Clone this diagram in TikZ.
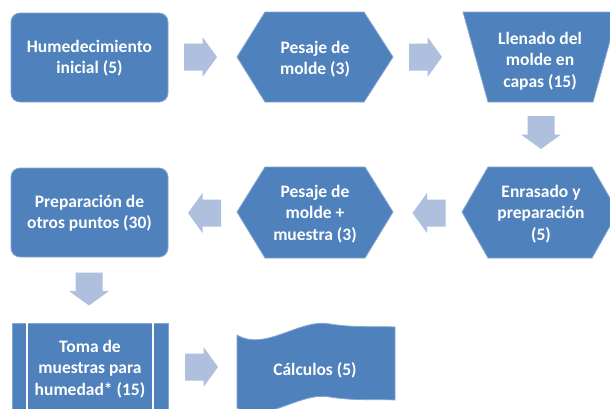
\documentclass[tikz,border=0pt]{standalone}
\usepackage{fontspec}
\setmainfont{Carlito}
\definecolor{boxblue}{HTML}{4F81BD}
\definecolor{arrowblue}{HTML}{AEC0DE}
\tikzset{
  shapefill/.style={fill=boxblue, draw=boxblue!70!white, line width=0.8pt},
  label/.style={text=white, align=center, font=\fontsize{17.5}{21.5}\selectfont\bfseries, inner sep=0pt},
  sep/.style={draw=white, line width=1.6pt}
}
\newcommand{\barrow}[4]{%
  \begin{scope}[shift={(#1,#2)},rotate=#3]
    \fill[arrowblue] (-16.5,-13.5) -- (2,-13.5) -- (2,-20) -- (16.5,0) -- (2,20) -- (2,13.5) -- (-16.5,13.5) -- cycle;
    \coordinate (#4) at (0,0);
  \end{scope}}
\begin{document}
\begin{tikzpicture}[x=1pt,y=-1pt]
\clip (0,0) rectangle (610,408);
\fill[white] (0,0) rectangle (610,408);
% row 1
\draw[shapefill, rounded corners=9pt] (11,13) rectangle (168,102);
\node[label] (n1) at (89.5,58) {Humedecimiento\\inicial (5)};
\draw[shapefill] (237,57) -- (265,12) -- (364,12) -- (393,57) -- (364,102) -- (265,102) -- cycle;
\node[label] (n2) at (315,59) {Pesaje de\\molde (3)};
\draw[shapefill] (463,12) -- (618,12) -- (593,102) -- (488,102) -- cycle;
\node[label] (n3) at (540,61) {Llenado del\\molde en\\capas (15)};
% row 2
\draw[shapefill] (462,212) -- (488,167) -- (592,167) -- (618,212) -- (592,258) -- (488,258) -- cycle;
\node[label] (n4) at (541,214) {Enrasado y\\preparación\\(5)};
\draw[shapefill] (237,212) -- (265,167) -- (365,167) -- (393,212) -- (365,258) -- (265,258) -- cycle;
\node[label] (n5) at (315,214) {Pesaje de\\molde +\\muestra (3)};
\draw[shapefill, rounded corners=9pt] (11,168) rectangle (168,257);
\node[label] (n6) at (89.5,213) {Preparación de\\otros puntos (30)};
% row 3
\draw[shapefill] (12,323) rectangle (168,440);
\draw[sep] (27,323) -- (27,440);
\draw[sep] (153,323) -- (153,440);
\node[label] (n7) at (90,369) {Toma de\\muestras para\\humedad* (15)};
\draw[shapefill] (237,335) .. controls (265,352) and (300,318) .. (330,324)
  .. controls (355,328) and (375,326) .. (395,327) -- (395,400)
  .. controls (375,399) and (355,401) .. (330,397)
  .. controls (300,391) and (265,425) .. (237,408) -- cycle;
\node[label] (n8) at (315,370) {Cálculos (5)};
% block arrows
\barrow{200.5}{57}{0}{a1}
\barrow{425.5}{57}{0}{a2}
\barrow{541}{132.5}{-90}{a3}
\barrow{429}{213}{180}{a4}
\barrow{204.5}{213}{180}{a5}
\barrow{89}{289}{-90}{a6}
\barrow{201.5}{367}{0}{a7}
\end{tikzpicture}
\end{document}
